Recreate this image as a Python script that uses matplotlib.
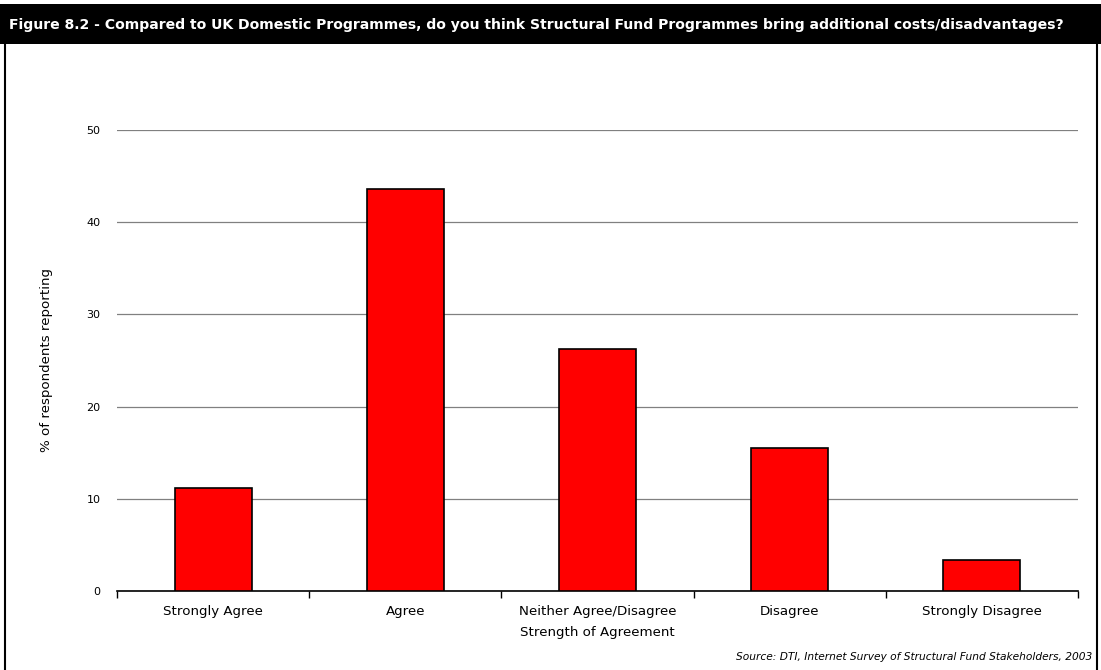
import matplotlib
matplotlib.use("Agg")
import matplotlib.pyplot as plt
from matplotlib.patches import Rectangle
import numpy as np

categories = ["Strongly Agree", "Agree", "Neither Agree/Disagree", "Disagree", "Strongly Disagree"]
values = [11.2, 43.6, 26.3, 15.5, 3.4]
yticks = [0, 10, 20, 30, 40, 50]

title = ("Figure 8.2 - Compared to UK Domestic Programmes, do you think "
         "Structural Fund Programmes bring additional costs/disadvantages?")
source = "Source: DTI, Internet Survey of Structural Fund Stakeholders, 2003"

plt.rcParams['font.family'] = ['DejaVu Sans']

W, H = 1101, 670
fig = plt.figure(figsize=(W / 100, H / 100), dpi=100)
ax = fig.add_axes([117 / W, 1 - 591 / H, 961 / W, 461 / H])

x = np.arange(len(categories))
ax.bar(x, values, width=0.4, color="#ff0000", edgecolor="black", linewidth=1.2, zorder=3)

ax.set_xlim(-0.5, len(categories) - 0.5)
ax.set_ylim(0, 50)
ax.set_yticks(yticks)
ax.yaxis.grid(True, color="#808080", linewidth=0.9, zorder=0)
ax.tick_params(axis="y", length=0, labelsize=8, pad=12)

ax.set_xticks(x)
ax.set_xticklabels(categories, fontsize=9.6)
ax.tick_params(axis="x", which="major", length=0, pad=10)
ax.set_xticks(np.arange(-0.5, len(categories)), minor=True)
ax.tick_params(axis="x", which="minor", length=5, width=1, color="black", direction="out")

for side in ["top", "right", "left"]:
    ax.spines[side].set_visible(False)
ax.spines["bottom"].set_color("black")
ax.spines["bottom"].set_linewidth(1.2)

ax.set_xlabel("Strength of Agreement", fontsize=9.6, labelpad=6)
ax.set_ylabel("% of respondents reporting", fontsize=9.6, labelpad=24)

# black title band across the top and the outer frame
fig.patches.append(Rectangle((5 / W, -0.01), 1092 / W, 1.0, transform=fig.transFigure,
                             facecolor="none", edgecolor="black", linewidth=1.5, zorder=1))
fig.patches.append(Rectangle((0, 1 - 44 / H), 1, 40 / H, transform=fig.transFigure,
                             facecolor="black", edgecolor="none", zorder=2))
fig.text(9 / W, 1 - 25 / H, title, color="white", fontsize=10.1, fontweight="bold",
         ha="left", va="center")
fig.text(1092 / W, 1 - 657 / H, source, fontsize=7.7, style="italic",
         ha="right", va="center")

fig.savefig("out.png", dpi=100)
